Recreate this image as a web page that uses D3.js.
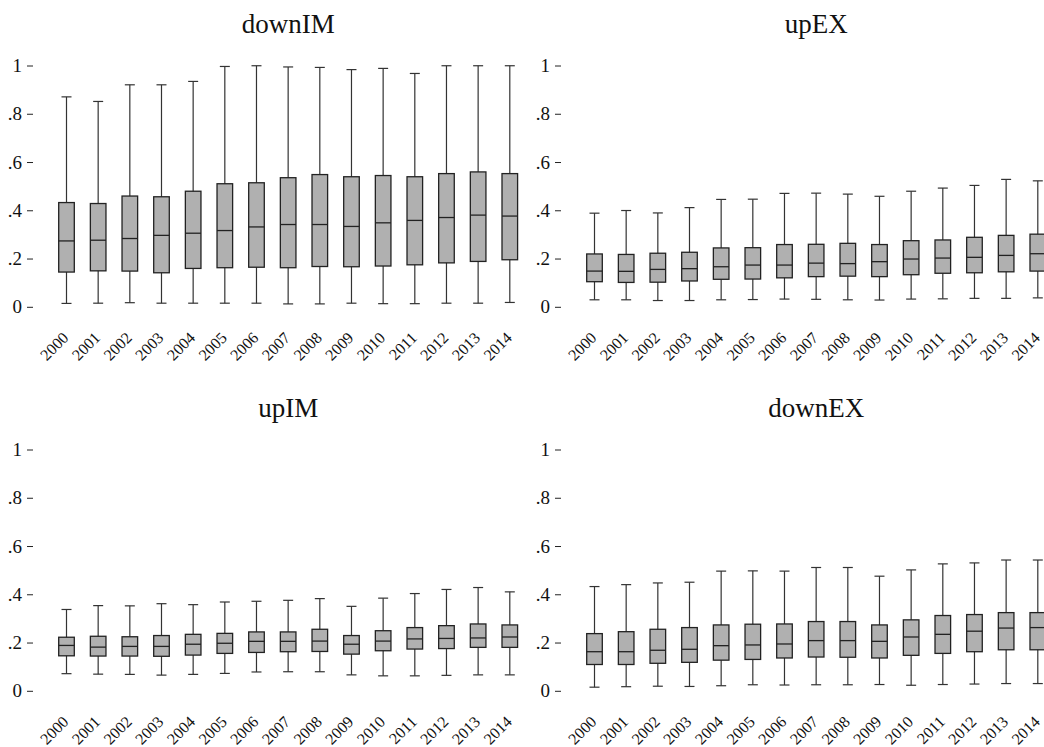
<!DOCTYPE html>
<html>
<head>
<meta charset="utf-8">
<script src="https://cdn.jsdelivr.net/npm/d3@7"></script>
<style>
  body { margin: 0; background: #fff; }
  svg { display: block; }
  text { font-family: "Liberation Serif", "Times New Roman", serif; fill: #111; }
</style>
</head>
<body>
<div class="chart"></div>
<script>
var years = ["2000","2001","2002","2003","2004","2005","2006","2007","2008","2009","2010","2011","2012","2013","2014"];
var yTicks = [0, 0.2, 0.4, 0.6, 0.8, 1];
var panelTitles = ["downIM", "upEX", "upIM", "downEX"];

// five-number summaries per year: [lower whisker, q1, median, q3, upper whisker]
var downIM = [
  [0.014, 0.144, 0.273, 0.432, 0.870],
  [0.015, 0.149, 0.276, 0.428, 0.851],
  [0.017, 0.148, 0.283, 0.459, 0.920],
  [0.015, 0.141, 0.296, 0.456, 0.920],
  [0.015, 0.159, 0.305, 0.479, 0.934],
  [0.015, 0.162, 0.316, 0.510, 0.996],
  [0.015, 0.164, 0.331, 0.514, 0.999],
  [0.012, 0.162, 0.341, 0.535, 0.994],
  [0.012, 0.167, 0.341, 0.548, 0.992],
  [0.015, 0.166, 0.333, 0.539, 0.983],
  [0.013, 0.169, 0.348, 0.544, 0.988],
  [0.013, 0.174, 0.358, 0.539, 0.967],
  [0.015, 0.182, 0.370, 0.552, 0.999],
  [0.015, 0.188, 0.380, 0.559, 0.999],
  [0.018, 0.195, 0.376, 0.552, 0.999]
];
var upEX = [
  [0.029, 0.104, 0.148, 0.219, 0.388],
  [0.029, 0.101, 0.147, 0.217, 0.399],
  [0.026, 0.102, 0.155, 0.222, 0.389],
  [0.026, 0.107, 0.158, 0.226, 0.411],
  [0.029, 0.114, 0.166, 0.244, 0.445],
  [0.030, 0.115, 0.173, 0.245, 0.446],
  [0.032, 0.120, 0.173, 0.258, 0.470],
  [0.031, 0.125, 0.181, 0.259, 0.471],
  [0.029, 0.127, 0.179, 0.263, 0.467],
  [0.028, 0.125, 0.187, 0.258, 0.458],
  [0.032, 0.133, 0.198, 0.274, 0.479],
  [0.033, 0.139, 0.202, 0.277, 0.492],
  [0.035, 0.141, 0.205, 0.288, 0.503],
  [0.035, 0.145, 0.213, 0.296, 0.528],
  [0.037, 0.148, 0.220, 0.301, 0.522]
];
var upIM = [
  [0.071, 0.145, 0.188, 0.222, 0.337],
  [0.069, 0.144, 0.181, 0.226, 0.353],
  [0.068, 0.144, 0.184, 0.224, 0.352],
  [0.065, 0.143, 0.184, 0.229, 0.361],
  [0.068, 0.148, 0.193, 0.234, 0.357],
  [0.072, 0.155, 0.197, 0.238, 0.368],
  [0.078, 0.159, 0.205, 0.244, 0.371],
  [0.079, 0.162, 0.205, 0.244, 0.375],
  [0.079, 0.163, 0.206, 0.255, 0.382],
  [0.066, 0.152, 0.193, 0.229, 0.350],
  [0.062, 0.166, 0.206, 0.249, 0.384],
  [0.062, 0.173, 0.215, 0.262, 0.403],
  [0.064, 0.175, 0.217, 0.270, 0.420],
  [0.066, 0.180, 0.219, 0.277, 0.428],
  [0.066, 0.180, 0.223, 0.273, 0.410]
];
var downEX = [
  [0.015, 0.109, 0.162, 0.237, 0.432],
  [0.017, 0.109, 0.162, 0.245, 0.440],
  [0.019, 0.114, 0.168, 0.255, 0.447],
  [0.018, 0.118, 0.172, 0.262, 0.450],
  [0.021, 0.127, 0.187, 0.273, 0.496],
  [0.025, 0.130, 0.190, 0.276, 0.497],
  [0.024, 0.136, 0.194, 0.277, 0.496],
  [0.025, 0.140, 0.208, 0.287, 0.511],
  [0.025, 0.139, 0.208, 0.287, 0.511],
  [0.026, 0.136, 0.205, 0.273, 0.475],
  [0.023, 0.147, 0.223, 0.294, 0.501],
  [0.026, 0.155, 0.234, 0.312, 0.526],
  [0.028, 0.162, 0.247, 0.316, 0.530],
  [0.030, 0.170, 0.260, 0.324, 0.542],
  [0.030, 0.170, 0.262, 0.324, 0.542]
];
var panelData = [downIM, upEX, upIM, downEX];

var W = 1044, H = 747;
var colX = [0, 528];
var rowY = [0, 384];

var svg = d3.select(".chart").append("svg")
  .attr("width", W)
  .attr("height", H);

var boxW = 15.6, capW = 10;

panelData.forEach(function(data, i) {
  var ox = colX[i % 2], oy = rowY[Math.floor(i / 2)];
  var g = svg.append("g").attr("transform", "translate(" + ox + "," + oy + ")");

  var x = d3.scalePoint().domain(years).range([66.5, 509.8]);
  var y = d3.scaleLinear().domain([0, 1]).range([306.8, 65.5]);

  g.append("text")
    .attr("x", (x.range()[0] + x.range()[1]) / 2)
    .attr("y", 33)
    .attr("text-anchor", "middle")
    .style("font-size", "27px")
    .text(panelTitles[i]);

  var yAxis = d3.axisLeft(y)
    .tickValues(yTicks)
    .tickSize(6)
    .tickPadding(5)
    .tickFormat(function(d) {
      return d === 0 ? "0" : d === 1 ? "1" : d3.format(".1f")(d).replace(/^0/, "");
    });

  var ya = g.append("g")
    .attr("transform", "translate(33,0)")
    .call(yAxis)
    .attr("font-family", null)
    .attr("font-size", null);
  ya.select(".domain").remove();
  ya.selectAll(".tick line").attr("stroke", "#222").attr("stroke-width", 1);
  ya.selectAll(".tick text")
    .style("font-size", "19px")
    .attr("fill", "#111");

  // rotated year labels
  g.selectAll(".xlab")
    .data(years)
    .enter()
    .append("text")
    .attr("class", "xlab")
    .attr("text-anchor", "end")
    .style("font-size", "16px")
    .attr("transform", function(d) {
      return "translate(" + (x(d) + 3) + "," + (y(0) + 32) + ") rotate(-45)";
    })
    .text(function(d) { return d; });

  var boxes = g.selectAll(".box")
    .data(data)
    .enter()
    .append("g")
    .attr("class", "box");

  // whiskers
  boxes.append("line")
    .attr("x1", function(d, j) { return x(years[j]); })
    .attr("x2", function(d, j) { return x(years[j]); })
    .attr("y1", function(d) { return y(d[4]); })
    .attr("y2", function(d) { return y(d[0]); })
    .attr("stroke", "#333")
    .attr("stroke-width", 1.2);

  boxes.selectAll(".cap")
    .data(function(d, j) { return [[years[j], d[0]], [years[j], d[4]]]; })
    .enter()
    .append("line")
    .attr("x1", function(c) { return x(c[0]) - capW / 2; })
    .attr("x2", function(c) { return x(c[0]) + capW / 2; })
    .attr("y1", function(c) { return y(c[1]); })
    .attr("y2", function(c) { return y(c[1]); })
    .attr("stroke", "#333")
    .attr("stroke-width", 1.2);

  boxes.append("rect")
    .attr("x", function(d, j) { return x(years[j]) - boxW / 2; })
    .attr("y", function(d) { return y(d[3]); })
    .attr("width", boxW)
    .attr("height", function(d) { return y(d[1]) - y(d[3]); })
    .attr("fill", "#b0b0b0")
    .attr("stroke", "#222")
    .attr("stroke-width", 1.3);

  boxes.append("line")
    .attr("x1", function(d, j) { return x(years[j]) - boxW / 2; })
    .attr("x2", function(d, j) { return x(years[j]) + boxW / 2; })
    .attr("y1", function(d) { return y(d[2]); })
    .attr("y2", function(d) { return y(d[2]); })
    .attr("stroke", "#222")
    .attr("stroke-width", 1.3);
});
</script>
</body>
</html>
